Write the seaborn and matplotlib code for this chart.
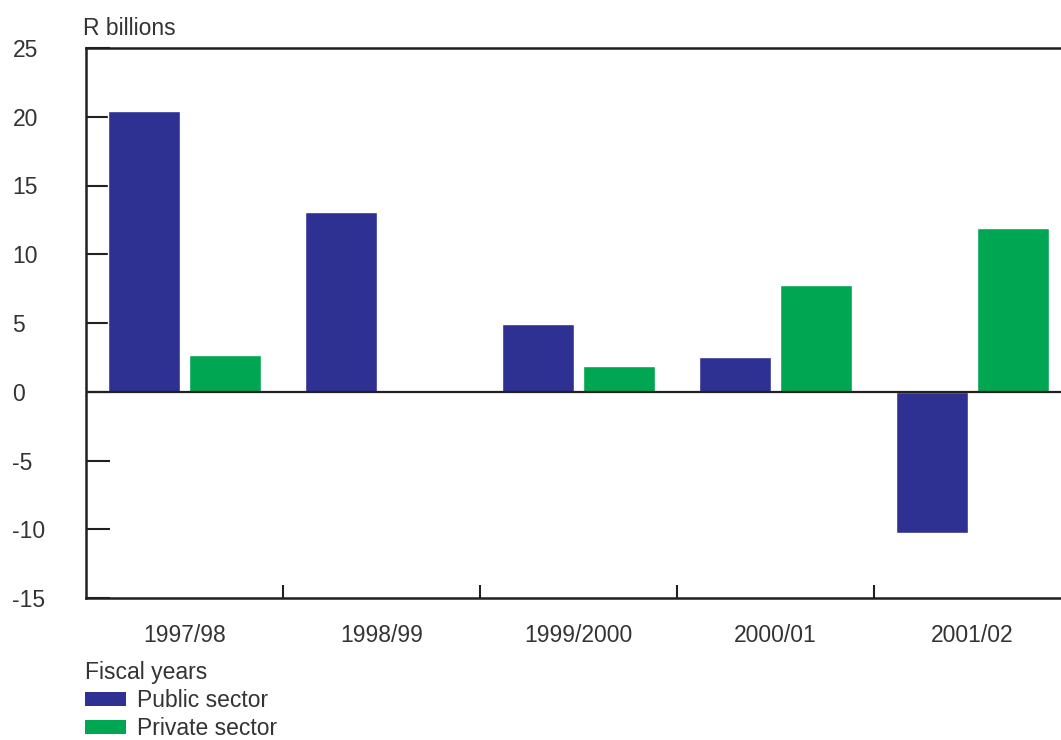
import matplotlib
matplotlib.use("Agg")
import matplotlib.pyplot as plt
from matplotlib.patches import Patch
from matplotlib.ticker import FixedLocator
import seaborn as sns
import pandas as pd

# Investment by sector, R billions
years = ["1997/98", "1998/99", "1999/2000", "2000/01", "2001/02"]
public_sector = [20.4, 13.1, 4.9, 2.5, -10.3]
private_sector = [2.7, 0.0, 1.9, 7.8, 11.9]
series_names = ["Public sector", "Private sector"]
colors = ["#2e3192", "#00a651"]
y_ticks = [-15, -10, -5, 0, 5, 10, 15, 20, 25]

df = pd.DataFrame({
    "year": years * 2,
    "value": public_sector + private_sector,
    "sector": [series_names[0]] * len(years) + [series_names[1]] * len(years),
})

sns.set_style("ticks")
plt.rcParams["font.family"] = ["Liberation Sans", "DejaVu Sans"]
text_color = "#333333"
line_color = "#231f20"
fs = 16.5

W, H = 1061, 740
fig = plt.figure(figsize=(W / 100, H / 100), dpi=100)
ax = fig.add_axes([86 / W, 142 / H, 985 / W, 550 / H])

sns.barplot(data=df, x="year", y="value", hue="sector", palette=colors,
            width=0.82, gap=0.1, saturation=1, ax=ax, legend=False)

ax.set_xlim(-0.5, 4.5)
ax.set_ylim(-15, 25)
ax.axhline(0, color=line_color, lw=1.6, zorder=3)

for side in ["left", "top", "bottom", "right"]:
    ax.spines[side].set_color(line_color)
    ax.spines[side].set_linewidth(1.8)
    ax.spines[side].set_zorder(4)

ax.set_yticks(y_ticks)
ax.set_yticklabels([str(v) for v in y_ticks])
ax.tick_params(axis="y", direction="in", length=17, width=1.5, color=line_color,
               labelsize=fs, labelcolor=text_color, pad=53)
for lab in ax.get_yticklabels():
    lab.set_horizontalalignment("left")

ax.set_xticks(range(len(years)))
ax.set_xticklabels(years)
ax.tick_params(axis="x", which="major", length=0, labelsize=fs,
               labelcolor=text_color, pad=19)
ax.xaxis.set_minor_locator(FixedLocator([i + 0.5 for i in range(len(years) - 1)]))
ax.tick_params(axis="x", which="minor", direction="in", length=9.5, width=1.5,
               color=line_color)

ax.set_xlabel("")
ax.set_ylabel("")

fig.text(83 / W, 1 - 35 / H, "R billions", fontsize=fs, color=text_color,
         ha="left", va="baseline")

handles = [Patch(facecolor=c, edgecolor="none", label=n)
           for c, n in zip(colors, series_names)]
leg = fig.legend(handles=handles, title="Fiscal years", loc="upper left",
                 bbox_to_anchor=(85 / W, 1 - 661 / H), frameon=False,
                 fontsize=fs, title_fontsize=fs, handlelength=1.8,
                 handleheight=0.55, handletextpad=0.48, labelspacing=0.22,
                 borderpad=0, borderaxespad=0, alignment="left")
for t in leg.get_texts():
    t.set_color(text_color)
leg.get_title().set_color(text_color)

fig.savefig("out.png", dpi=100)
